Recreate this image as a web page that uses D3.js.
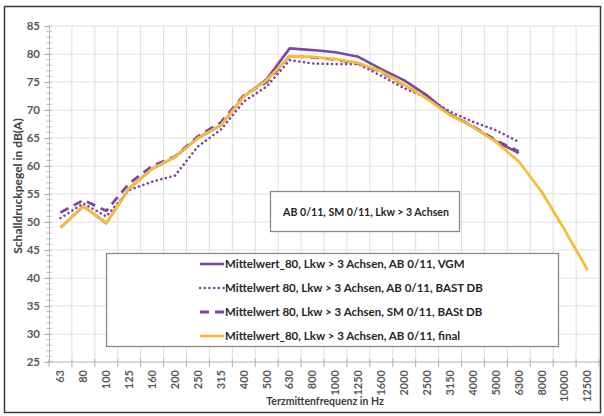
<!DOCTYPE html>
<html>
<head>
<meta charset="utf-8">
<script src="https://cdn.jsdelivr.net/npm/d3@7/dist/d3.min.js"></script>
<style>
  html, body { margin: 0; padding: 0; background: #fff; }
  svg { display: block; }
  text { font-family: Lato, "Open Sans", sans-serif; font-weight: bold; }
</style>
</head>
<body>
<svg id="chart" width="604" height="416"></svg>
<script>
// Third-octave band centre frequencies (Hz)
const frequencies = ["63","80","100","125","160","200","250","315","400","500","630","800","1000","1250","1600","2000","2500","3150","4000","5000","6300","8000","10000","12500"];

// Sound pressure levels in dB(A); null = no value for that band
const vgm    = [49.0,52.8,49.8,56.0,59.5,61.6,65.0,67.3,72.4,75.5,81.0,80.7,80.3,79.5,77.3,75.3,72.6,69.2,67.0,64.4,62.3,null,null,null];
const bastAB = [50.7,53.3,51.0,55.7,57.2,58.3,63.5,66.5,71.5,74.2,78.9,78.3,78.2,78.2,76.1,73.9,72.2,69.7,67.9,66.4,64.3,null,null,null];
const bastSM = [51.7,53.9,52.0,56.9,60.0,61.7,65.3,67.8,72.6,75.0,79.6,79.4,79.0,78.3,76.8,74.4,72.2,69.2,67.1,64.6,62.6,null,null,null];
const final  = [49.0,52.8,49.8,56.0,59.5,61.6,65.0,67.3,72.4,75.3,79.6,79.5,79.1,78.4,76.9,74.5,72.0,69.1,67.0,64.3,60.8,55.4,48.6,41.4];

const yTicks = [25,30,35,40,45,50,55,60,65,70,75,80,85];

const legendLabels = [
  "Mittelwert_80, Lkw > 3 Achsen, AB 0/11, VGM",
  "Mittelwert 80, Lkw > 3 Achsen, AB 0/11, BAST DB",
  "Mittelwert 80, Lkw > 3 Achsen, SM 0/11, BASt DB",
  "Mittelwert_80, Lkw > 3 Achsen, AB 0/11, final"
];
const titleText = "AB 0/11, SM 0/11, Lkw > 3 Achsen";

const purple = "#7a4a9e";
const gold = "#f7bd3a";

const series = [
  { values: vgm,    color: purple, dash: null,      cap: "butt",  width: 2.6 },
  { values: bastAB, color: purple, dash: "0.1,4.6", cap: "round", width: 2.6 },
  { values: bastSM, color: purple, dash: "9,6",     cap: "butt",  width: 2.8 },
  { values: final,  color: gold,   dash: null,      cap: "butt",  width: 2.8 }
];

const svg = d3.select("#chart");
const plot = { left: 49, right: 599, top: 26, bottom: 362 };

// Outer frame
svg.append("rect")
  .attr("x", 4.5).attr("y", 6.5).attr("width", 596).attr("height", 406)
  .attr("fill", "none").attr("stroke", "#3a3a3a").attr("stroke-width", 1.5);

const x = d3.scaleBand().domain(frequencies).range([plot.left, plot.right]).padding(0);
const y = d3.scaleLinear().domain([25, 85]).range([plot.bottom, plot.top]);

// Grid
const boundaries = frequencies.map(f => x(f)).concat([plot.right]);
svg.append("g").selectAll("line").data(boundaries.slice(1)).join("line")
  .attr("x1", d => d).attr("x2", d => d)
  .attr("y1", plot.top).attr("y2", plot.bottom)
  .attr("stroke", "#dedede").attr("stroke-width", 1);
svg.append("g").selectAll("line").data(yTicks.slice(1)).join("line")
  .attr("x1", plot.left).attr("x2", plot.right)
  .attr("y1", d => y(d)).attr("y2", d => y(d))
  .attr("stroke", "#dedede").attr("stroke-width", 1);

// Y axis with minor ticks
const yAxis = svg.append("g").attr("transform", `translate(${plot.left},0)`)
  .call(d3.axisLeft(y).tickValues(yTicks).tickSize(5).tickPadding(4));
yAxis.select(".domain").attr("stroke", "#b0b0b0");
yAxis.selectAll(".tick line").attr("stroke", "#b0b0b0");
yAxis.selectAll(".tick text").attr("fill", "#595959").attr("font-size", 11.5)
  .style("font-family", "Lato, sans-serif").style("font-weight", "bold");
svg.append("g").selectAll("line").data(d3.range(25, 86)).join("line")
  .attr("x1", plot.left - 3).attr("x2", plot.left + 3)
  .attr("y1", d => y(d)).attr("y2", d => y(d))
  .attr("stroke", "#b8b8b8").attr("stroke-width", 0.8);

// X axis
svg.append("line")
  .attr("x1", plot.left).attr("x2", plot.right)
  .attr("y1", plot.bottom).attr("y2", plot.bottom)
  .attr("stroke", "#b0b0b0");
svg.append("g").selectAll("line").data(boundaries).join("line")
  .attr("x1", d => d).attr("x2", d => d)
  .attr("y1", plot.bottom - 3).attr("y2", plot.bottom + 5)
  .attr("stroke", "#b0b0b0");
svg.append("g").selectAll("text").data(frequencies).join("text")
  .attr("transform", d => `translate(${x(d) + x.bandwidth() / 2 + 3.8},370) rotate(-90)`)
  .attr("text-anchor", "end")
  .attr("fill", "#595959").attr("font-size", 11)
  .text(d => d);

// Axis titles
svg.append("text")
  .attr("transform", `translate(22,${(plot.top + plot.bottom) / 2 - 8}) rotate(-90)`)
  .attr("text-anchor", "middle").attr("fill", "#404040").attr("font-size", 12)
  .text("Schalldruckpegel in dB(A)");
svg.append("text")
  .attr("x", 325).attr("y", 405)
  .attr("text-anchor", "middle").attr("fill", "#404040").attr("font-size", 10.5)
  .text("Terzmittenfrequenz in Hz");

// Data lines
const line = d3.line()
  .defined(d => d.v !== null)
  .x(d => x(d.f) + x.bandwidth() / 2)
  .y(d => y(d.v));
series.forEach(s => {
  svg.append("path")
    .datum(frequencies.map((f, i) => ({ f, v: s.values[i] })))
    .attr("d", line)
    .attr("fill", "none")
    .attr("stroke", s.color)
    .attr("stroke-width", s.width)
    .attr("stroke-linecap", s.cap)
    .attr("stroke-linejoin", "round")
    .attr("stroke-dasharray", s.dash);
});

// Title box
const tb = svg.append("g");
tb.append("rect").attr("x", 270.5).attr("y", 191.5).attr("width", 189).attr("height", 40)
  .attr("fill", "#fff").attr("stroke", "#8a8a8a").attr("stroke-width", 1.3);
tb.append("text").attr("x", 366).attr("y", 215.5).attr("text-anchor", "middle")
  .attr("fill", "#262626").attr("font-size", 10.6).text(titleText);

// Legend
const lg = svg.append("g");
lg.append("rect").attr("x", 106.5).attr("y", 253.5).attr("width", 452).attr("height", 93)
  .attr("fill", "#fff").attr("stroke", "#8a8a8a").attr("stroke-width", 1.3);
const rowY = [264, 288, 312, 336];
series.forEach((s, i) => {
  lg.append("line")
    .attr("x1", 200).attr("x2", 224).attr("y1", rowY[i]).attr("y2", rowY[i])
    .attr("stroke", s.color).attr("stroke-width", s.width)
    .attr("stroke-linecap", s.cap)
    .attr("stroke-dasharray", s.dash);
  lg.append("text").attr("x", 225).attr("y", rowY[i] + 4)
    .attr("fill", "#262626").attr("font-size", 11.5).text(legendLabels[i]);
});
</script>
</body>
</html>
